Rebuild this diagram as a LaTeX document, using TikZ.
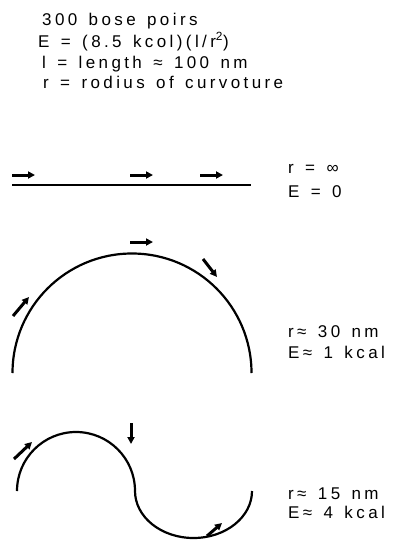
\documentclass[tikz,border=0pt]{standalone}
\usepackage{fontspec}
\setmainfont{Liberation Sans}[LetterSpace=20,WordSpace=1.4]
\usepackage{tikz}
\usetikzlibrary{arrows.meta}

\begin{document}
\begin{tikzpicture}[x=1pt,y=-1pt,
  dna/.style={line width=2.2pt},
  tick/.style={line width=3pt, -{Triangle[length=7pt,width=7pt]}},
  lab/.style={anchor=base west, inner sep=0pt, font=\fontsize{17}{20}\selectfont}
]
\useasboundingbox (0,0) rectangle (392,546);
% header
\node[lab] (bp)   at (42,25) {300 bose poirs};
\node[lab] (ener) at (38,47) {E = (8.5 kcol)(l/r\textsuperscript{2})};
\node[lab] (len)  at (42,68) {l = length ≈ 100 nm};
\node[lab] (rad)  at (43,88) {r = rodius of curvoture};

% straight
\draw[dna] (12,185) -- (251,185);
\draw[tick] (12,175) -- (35,175);
\draw[tick] (130,175) -- (153,175);
\draw[tick] (200,175) -- (223,175);
\node[lab] (rinf) at (288,173) {r = ∞};
\node[lab] (ezero) at (288,197) {E = 0};

% half circle
\draw[dna] (12.5,373) arc[start angle=180, end angle=360, radius=119.5];
\draw[tick] (13,316) -- (29,297);
\draw[tick] (130,242) -- (153,242);
\draw[tick] (203,259) -- (217,277);
\node[lab] (rthirty) at (288,337) {r≈ 30 nm};
\node[lab] (eone)    at (288,358) {E≈ 1 kcal};

% s-shape
\draw[dna] (17,491) arc[start angle=180, end angle=360, radius=59]
  arc[start angle=180, end angle=0, x radius=58.5, y radius=47];
\draw[tick] (14,459) -- (32,442);
\draw[tick] (131,423) -- (131,444);
\draw[tick] (207,536) -- (222,523);
\node[lab] (rfifteen) at (288,499) {r≈ 15 nm};
\node[lab] (efour)    at (288,518) {E≈ 4 kcal};
\end{tikzpicture}
\end{document}
